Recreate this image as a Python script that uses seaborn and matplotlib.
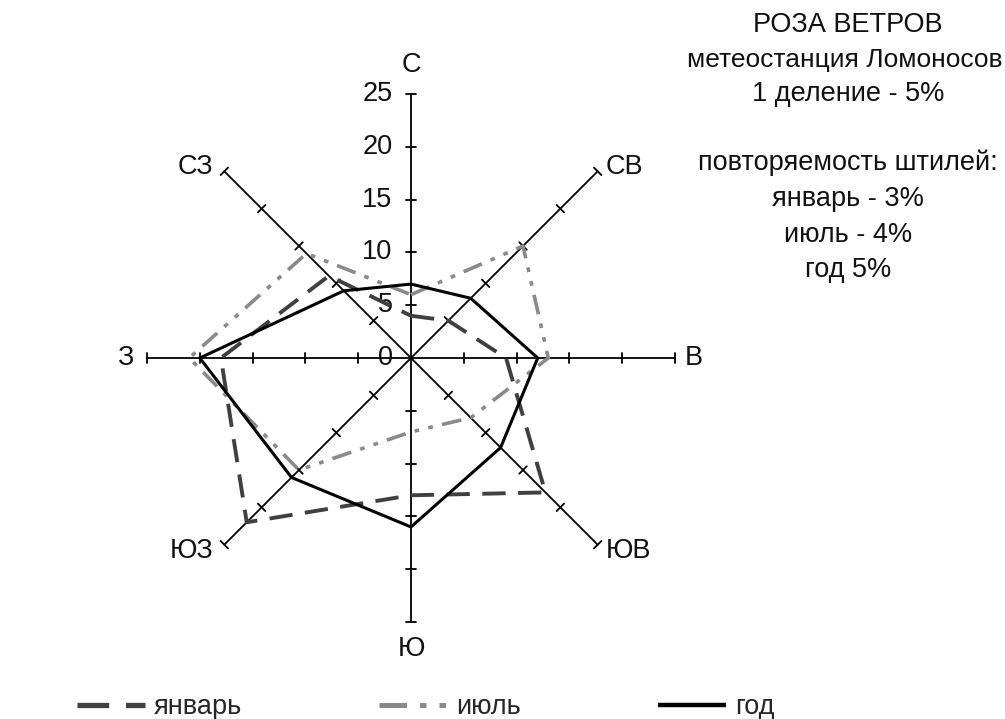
import numpy as np
import pandas as pd
import matplotlib
matplotlib.use("Agg")
import matplotlib.pyplot as plt
import seaborn as sns
from matplotlib.lines import Line2D

# ---- data ----
directions = ['С', 'СВ', 'В', 'ЮВ', 'Ю', 'ЮЗ', 'З', 'СЗ']
january = [4, 5, 9, 18, 13, 22, 18, 11]
july = [6, 15, 13, 8, 7, 15, 21, 14]
year = [7, 8, 12, 12, 16, 16, 20, 9]
series_names = ['январь', 'июль', 'год']
radial_ticks = [0, 5, 10, 15, 20, 25]
r_max = 25
title_lines = ['РОЗА ВЕТРОВ', 'метеостанция Ломоносов', '1 деление - 5%', '',
               'повторяемость штилей:', 'январь - 3%', 'июль - 4%', 'год 5%']

sns.set_style('white')
plt.rcParams['font.family'] = ['Liberation Sans', 'DejaVu Sans']

FS = 19.5
W, H = 1005, 719
fig = plt.figure(figsize=(W / 100, H / 100), dpi=100)
ax = fig.add_axes([0, 0, 1, 1])
s = 10.56  # px per unit
cx, cy = 411, 358
ax.set_xlim(-cx / s, (W - cx) / s)
ax.set_ylim(-(H - cy) / s, cy / s)
ax.set_axis_off()

angles = np.deg2rad(np.arange(len(directions)) * 45.0)

# spokes with tick marks
for th in angles:
    ux, uy = np.sin(th), np.cos(th)
    px, py = np.cos(th), -np.sin(th)
    ax.plot([0, r_max * ux], [0, r_max * uy], color='black', lw=1.3, zorder=1)
    for t in radial_ticks[1:]:
        ax.plot([t * ux - 0.5 * px, t * ux + 0.5 * px],
                [t * uy - 0.5 * py, t * uy + 0.5 * py], color='black', lw=1.3, zorder=1)

# radial tick labels on north spoke
for t in radial_ticks:
    ax.text(-1.75, t, str(t), ha='right', va='center', fontsize=FS, color='#111111')

# direction labels
label_pos = {
    'С': (0, 27.7, 'center', 'center'),
    'СВ': (18.4, 18.1, 'left', 'center'),
    'В': (25.9, 0, 'left', 'center'),
    'ЮВ': (18.4, -18.3, 'left', 'center'),
    'Ю': (0, -27.6, 'center', 'center'),
    'ЮЗ': (-18.75, -18.3, 'right', 'center'),
    'З': (-26.3, 0, 'right', 'center'),
    'СЗ': (-18.75, 18.1, 'right', 'center'),
}
for d in directions:
    x, y, ha, va = label_pos[d]
    ax.text(x, y, d, ha=ha, va=va, fontsize=FS, color='#111111')

# build long-form data for the three series (closed polygons)
rows = []
for name, vals in zip(series_names, [january, july, year]):
    for i in list(range(len(directions))) + [0]:
        r = vals[i]
        rows.append({'series': name,
                     'x': r * np.sin(angles[i]), 'y': r * np.cos(angles[i])})
df = pd.DataFrame(rows)

colors = {'январь': '#404040', 'июль': '#8a8a8a', 'год': '#000000'}
dash_styles = {'январь': (6, 3.2), 'июль': (5.5, 2.6, 1.3, 2.6, 1.3, 2.6), 'год': None}
widths = {'январь': 2.8, 'июль': 2.6, 'год': 2.2}

handles = []
for name in series_names:
    sub = df[df['series'] == name]
    sns.lineplot(data=sub, x='x', y='y', sort=False, estimator=None,
                 color=colors[name], lw=widths[name], ax=ax, legend=False, zorder=3)
    line = ax.lines[-1]
    h = Line2D([], [], color=colors[name], lw=widths[name] + 1.0, solid_capstyle='butt')
    if dash_styles[name]:
        line.set_dashes(dash_styles[name])
        h.set_dashes(dash_styles[name])
    handles.append(h)

fig.legend(handles, series_names, loc='center left', bbox_to_anchor=(77 / W, 1 - 707 / H),
           ncol=3, frameon=False, fontsize=FS, handlelength=2.5, handletextpad=0.35,
           columnspacing=5.05, borderaxespad=0, borderpad=0)

# text block at the right
ys = [25, 60, 94, 0, 163, 199, 235, 270]
for i, (txt, yp) in enumerate(zip(title_lines, ys)):
    if txt:
        fs = 19 if i == 1 else FS
        xc = 845 if i == 1 else 848
        fig.text(xc / W, 1 - yp / H, txt, ha='center', va='center', fontsize=fs, color='#111111')

fig.savefig('out.png', dpi=100)
